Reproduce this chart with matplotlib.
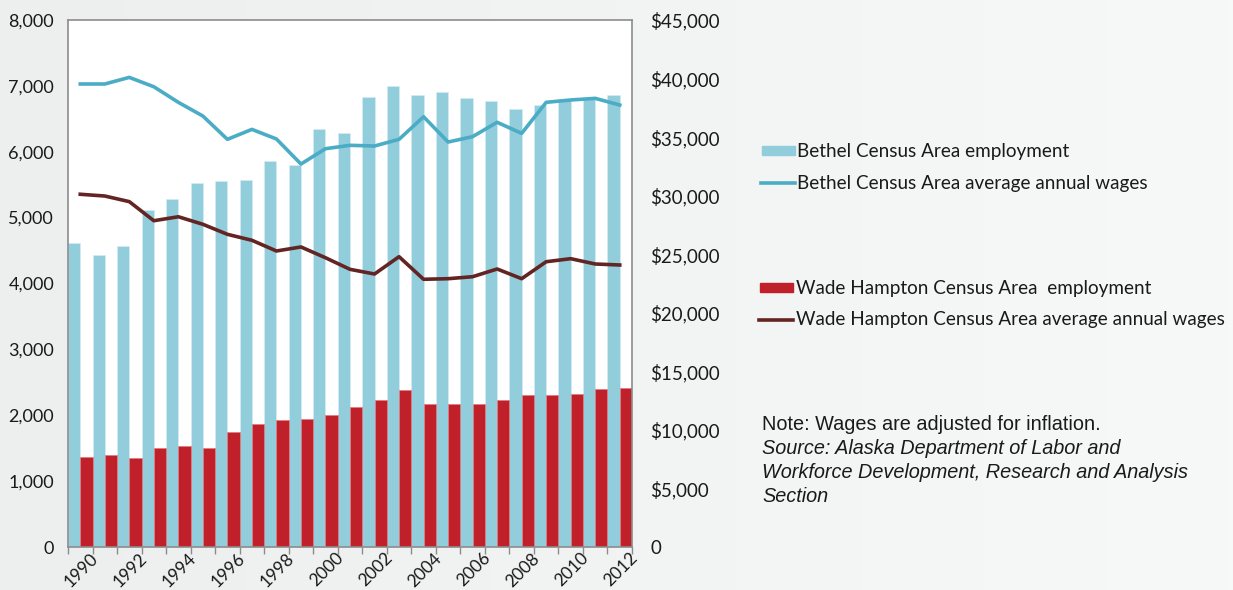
import numpy as np
import matplotlib
matplotlib.use("Agg")
import matplotlib.pyplot as plt
from matplotlib.patches import Rectangle
from matplotlib.lines import Line2D
from matplotlib.colors import LinearSegmentedColormap

years = list(range(1990, 2013))
bethel_emp = [4620, 4440, 4570, 5120, 5280, 5520, 5555, 5565, 5860, 5800, 6350, 6280,
              6825, 7000, 6860, 6905, 6815, 6775, 6645, 6710, 6780, 6820, 6855]
wade_emp = [1360, 1390, 1355, 1500, 1528, 1507, 1745, 1866, 1927, 1937, 2003, 2120,
            2231, 2382, 2170, 2175, 2170, 2231, 2306, 2302, 2327, 2403, 2413]
bethel_wage = [39535, 39535, 40100, 39300, 37970, 36800, 34810, 35660, 34840, 32700, 34010, 34300,
               34240, 34810, 36740, 34580, 35040, 36265, 35320, 37970, 38170, 38310, 37740]
wade_wage = [30120, 29970, 29490, 27860, 28200, 27555, 26700, 26190, 25275, 25620, 24700, 23710,
             23310, 24790, 22860, 22910, 23080, 23740, 22910, 24360, 24620, 24165, 24080]

left_ticks = [0, 1000, 2000, 3000, 4000, 5000, 6000, 7000, 8000]
right_ticks = [0, 5000, 10000, 15000, 20000, 25000, 30000, 35000, 40000, 45000]

C_BBAR = "#92CDDC"
C_RBAR = "#C0202A"
C_BLINE = "#4BACC6"
C_RLINE = "#632523"
FONT = "Lato"

W, H = 1233, 590
fig = plt.figure(figsize=(W / 100, H / 100), dpi=100)

# background gradient
bg = fig.add_axes([0, 0, 1, 1], zorder=-10)
grad = np.linspace(0, 1, 256)[None, :]
cm = LinearSegmentedColormap.from_list("bg", ["#EDEFEF", "#F7F8F8"])
bg.imshow(grad, aspect="auto", cmap=cm, extent=[0, 1, 0, 1])
bg.set_axis_off()

ax = fig.add_axes([68 / W, 1 - 547 / H, (632 - 68) / W, (547 - 20) / H])
ax.set_facecolor("white")
x = np.arange(len(years))
ax.bar(x - 0.25, bethel_emp, width=0.5, color=C_BBAR, edgecolor="#D6ECF2", linewidth=0.5, zorder=2)
ax.bar(x + 0.25, wade_emp, width=0.5, color=C_RBAR, edgecolor="#E07A80", linewidth=0.5, zorder=2)
ax.set_xlim(-0.5, len(years) - 0.5)
ax.set_ylim(0, 8000)
ax.set_yticks(left_ticks)
ax.set_yticklabels([f"{v:,}" for v in left_ticks], fontsize=13, family=FONT, color="#1a1a1a")
ax.tick_params(axis="y", length=0, pad=10)
ax.set_xticks(np.arange(-0.5, len(years), 1.0))
ax.set_xticklabels([])
ax.tick_params(axis="x", length=5, color="#8c8c8c", width=1)
for s in ax.spines.values():
    s.set_color("#8c8c8c")
    s.set_linewidth(1.2)

xt = ax.get_xaxis_transform()
for i, yr in enumerate(years):
    if yr % 2 == 0:
        ax.text(i + 0.40, -3 / 527, str(yr), rotation=45, ha="right", va="top",
                rotation_mode="anchor", fontsize=12.5, family=FONT, color="#1a1a1a",
                transform=xt, clip_on=False)

ax2 = ax.twinx()
ax2.set_ylim(0, 45000)
ax2.plot(x, bethel_wage, color=C_BLINE, lw=2.6, zorder=3, solid_joinstyle="round")
ax2.plot(x, wade_wage, color=C_RLINE, lw=2.6, zorder=3, solid_joinstyle="round")
ax2.set_yticks(right_ticks)
ax2.set_yticklabels(["0"] + [f"${v:,}" for v in right_ticks[1:]], fontsize=13.5, family=FONT, color="#1a1a1a")
ax2.tick_params(axis="y", length=0, pad=13)
for s in ax2.spines.values():
    s.set_visible(False)

# legend
def fx(px):
    return px / W
def fy(py):
    return 1 - py / H

fig.patches.append(Rectangle((fx(762), fy(155)), 33 / W, 9 / H, transform=fig.transFigure,
                             color=C_BBAR, figure=fig))
fig.lines.append(Line2D([fx(761), fx(795)], [fy(183), fy(183)], transform=fig.transFigure,
                        color=C_BLINE, lw=2.6, figure=fig))
fig.patches.append(Rectangle((fx(760), fy(292)), 33 / W, 9 / H, transform=fig.transFigure,
                             color=C_RBAR, figure=fig))
fig.lines.append(Line2D([fx(759), fx(793)], [fy(320), fy(320)], transform=fig.transFigure,
                        color=C_RLINE, lw=2.6, figure=fig))
leg_items = [(797, 151, "Bethel Census Area employment"),
             (797, 183, "Bethel Census Area average annual wages"),
             (796, 288, "Wade Hampton Census Area  employment"),
             (796, 320, "Wade Hampton Census Area average annual wages")]
for px, py, t in leg_items:
    fig.text(fx(px), fy(py), t, ha="left", va="center", fontsize=13.6, family=FONT, color="#1a1a1a")

fig.text(fx(762), fy(425), "Note: Wages are adjusted for inflation.", ha="left", va="center",
         fontsize=14.3, family="Liberation Sans", color="#1a1a1a")
src = ["Source: Alaska Department of Labor and",
       "Workforce Development, Research and Analysis",
       "Section"]
for k, line in enumerate(src):
    fig.text(fx(762), fy(449 + 24 * k), line, ha="left", va="center", fontsize=14.3,
             family="Liberation Sans", style="italic", color="#1a1a1a")

fig.savefig("out.png", dpi=100)
